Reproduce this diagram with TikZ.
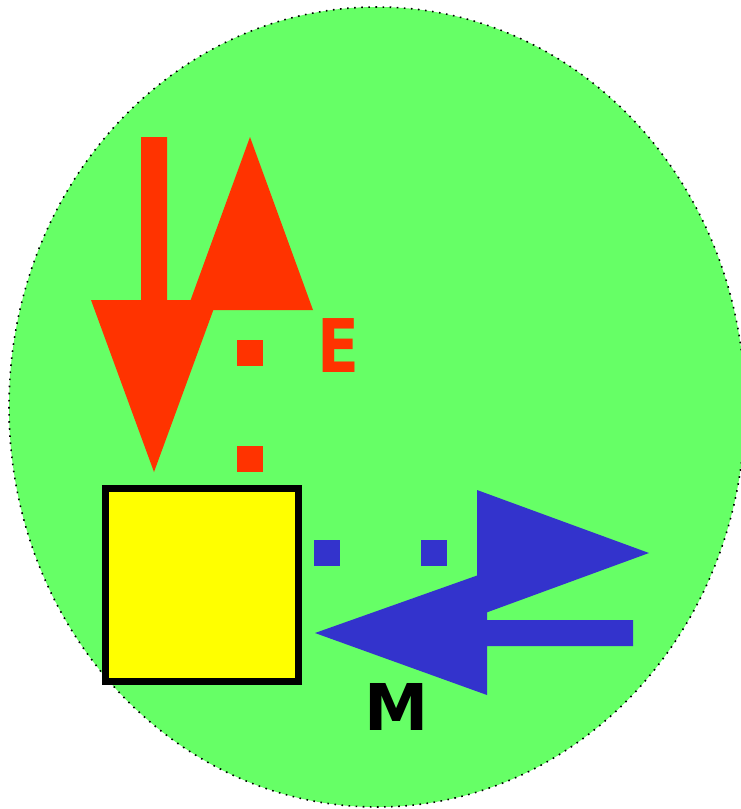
\documentclass[tikz,border=0pt]{standalone}
\usepackage{fontspec}
\setmainfont{DejaVu Sans}
\definecolor{cellgreen}{RGB}{102,255,102}
\definecolor{ered}{RGB}{255,51,0}
\definecolor{mblue}{RGB}{51,51,204}
\definecolor{boxyellow}{RGB}{255,255,0}

\begin{document}
\begin{tikzpicture}[x=1pt,y=-1pt,line width=1pt]
  \useasboundingbox (0,0) rectangle (741,809);
  \coordinate (C) at (377,407);
  \fill[cellgreen] (C) ellipse [x radius=368pt, y radius=400pt];
  \draw[line width=1.6pt, dash pattern=on 1.6pt off 5.5pt] (C) ellipse [x radius=368pt, y radius=400pt];
  % red pair
  \fill[ered] (141,137) -- (167,137) -- (167,300) -- (217,300) -- (154,472)
    -- (91,300) -- (141,300) -- cycle;
  \fill[ered] (250,137) -- (313,310) -- (187,310) -- cycle;
  \foreach \y in {353,459}
    \fill[ered] (237,\y-13) rectangle (263,\y+13);
  % blue pair
  \fill[mblue] (477,490) -- (649,553) -- (477,616) -- cycle;
  \foreach \x in {327,434}
    \fill[mblue] (\x-13,540) rectangle (\x+13,566);
  \fill[mblue] (315,633) -- (487,572) -- (487,620) -- (633,620) -- (633,646)
    -- (487,646) -- (487,695) -- cycle;
  \node[draw, line width=7pt, fill=boxyellow, inner sep=0pt,
    minimum width=193pt, minimum height=193pt] (box) at (202,585) {};
  \node[text=ered, inner sep=0pt, xscale=0.83, font=\fontsize{74}{74}\selectfont\bfseries] (elabel) at (338,346) {E};
  \node[inner sep=0pt, font=\fontsize{64.5}{64.5}\selectfont\bfseries] (mlabel) at (397,707) {M};
\end{tikzpicture}
\end{document}
